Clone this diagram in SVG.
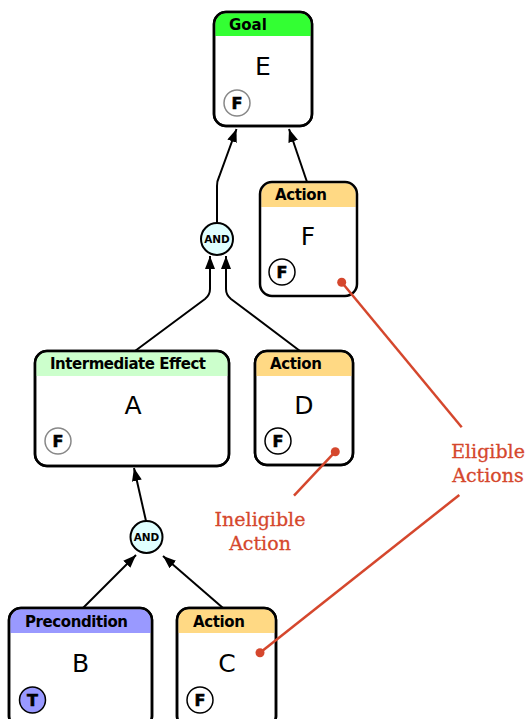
<svg xmlns="http://www.w3.org/2000/svg" width="526" height="719" viewBox="0 0 526 719">
<style>
.box{fill:#fff;stroke:#000;stroke-width:2.5}
.hdr{font-family:"DejaVu Sans",sans-serif;font-weight:bold;font-size:15px;fill:#000}
.big{font-family:"DejaVu Sans",sans-serif;font-size:25px;fill:#000;text-anchor:middle}
.st{font-family:"DejaVu Sans",sans-serif;font-weight:bold;font-size:16px;fill:#000;stroke:#000;stroke-width:0.6;text-anchor:middle}
.and{fill:#e0ffff;stroke:#000;stroke-width:2}
.andt{font-family:"DejaVu Sans",sans-serif;font-weight:bold;font-size:10.5px;fill:#000;text-anchor:middle}
.edge{fill:none;stroke:#000;stroke-width:2}
.red{fill:none;stroke:#d5472d;stroke-width:2.5}
.dot{fill:#d5472d}
.note{font-family:"DejaVu Serif",serif;font-size:19px;fill:#d5472d;stroke:#d5472d;stroke-width:0.3;text-anchor:middle}
</style>
<defs>
<marker id="arr" markerUnits="userSpaceOnUse" markerWidth="14" markerHeight="11" refX="13" refY="5" orient="auto">
<path d="M0,0 L13,5 L0,10 z" fill="#000"/>
</marker>
</defs>
<g id="connectors">
<path class="edge" d="M217,223 L217,186 Q217,181 219,177 L236.5,129" marker-end="url(#arr)"/>
<path class="edge" d="M307,182 L289,129" marker-end="url(#arr)"/>
<path class="edge" d="M135,351 L205,299 Q210,295 210,289 L210,256" marker-end="url(#arr)"/>
<path class="edge" d="M300,351 L231,299 Q226,295 226,289 L226,256" marker-end="url(#arr)"/>
<path class="edge" d="M146,521 L134,468" marker-end="url(#arr)"/>
<path class="edge" d="M83,608 L136,555" marker-end="url(#arr)"/>
<path class="edge" d="M223,608 L163,556" marker-end="url(#arr)"/>
</g>
<g id="node-E">
<rect class="box" x="214" y="12" width="98" height="114" rx="12"/>
<path d="M215.3,36 L215.3,24 A10.7,10.7 0 0 1 226,13.3 L300,13.3 A10.7,10.7 0 0 1 310.7,24 L310.7,36 Z" fill="#33ff33"/>
<rect x="214" y="12" width="98" height="114" rx="12" fill="none" stroke="#000" stroke-width="2.5"/>
<text class="hdr" x="229" y="30">Goal</text>
<text class="big" x="263" y="75">E</text>
<circle cx="237" cy="103" r="13" fill="#fff" stroke="#888" stroke-width="1.5"/>
<text class="st" x="237" y="109">F</text>
</g>
<g id="node-F">
<path d="M261.3,207 L261.3,194 A10.7,10.7 0 0 1 272,183.3 L345,183.3 A10.7,10.7 0 0 1 355.7,194 L355.7,207 Z" fill="#ffd984"/>
<rect x="260" y="182" width="97" height="114" rx="12" fill="none" stroke="#000" stroke-width="2.5"/>
<text class="hdr" x="275" y="200" textLength="52">Action</text>
<text class="big" x="308" y="245">F</text>
<circle cx="282" cy="272" r="13" fill="#fff" stroke="#000" stroke-width="1.5"/>
<text class="st" x="282" y="278">F</text>
</g>
<g id="node-AND1">
<circle class="and" cx="217" cy="239" r="16"/>
<text class="andt" x="217" y="243">AND</text>
</g>
<g id="node-A">
<rect class="box" x="35" y="351" width="194" height="115" rx="12"/>
<path d="M36.3,376 L36.3,363 A10.7,10.7 0 0 1 47,352.3 L217,352.3 A10.7,10.7 0 0 1 227.7,363 L227.7,376 Z" fill="#ccffcc"/>
<rect x="35" y="351" width="194" height="115" rx="12" fill="none" stroke="#000" stroke-width="2.5"/>
<text class="hdr" x="50" y="369" textLength="156">Intermediate Effect</text>
<text class="big" x="133" y="414">A</text>
<circle cx="58" cy="441" r="13" fill="#fff" stroke="#888" stroke-width="1.5"/>
<text class="st" x="58" y="447">F</text>
</g>
<g id="node-D">
<rect class="box" x="255" y="351" width="98" height="114" rx="12"/>
<path d="M256.3,376 L256.3,363 A10.7,10.7 0 0 1 267,352.3 L341,352.3 A10.7,10.7 0 0 1 351.7,363 L351.7,376 Z" fill="#ffd984"/>
<rect x="255" y="351" width="98" height="114" rx="12" fill="none" stroke="#000" stroke-width="2.5"/>
<text class="hdr" x="270" y="369" textLength="52">Action</text>
<text class="big" x="304" y="414">D</text>
<circle cx="278" cy="441" r="13" fill="#fff" stroke="#000" stroke-width="1.5"/>
<text class="st" x="278" y="447">F</text>
</g>
<g id="node-AND2">
<circle class="and" cx="146.5" cy="537" r="16"/>
<text class="andt" x="146.5" y="541">AND</text>
</g>
<g id="node-B">
<rect class="box" x="9" y="608" width="143" height="120" rx="12"/>
<path d="M10.3,633 L10.3,620 A10.7,10.7 0 0 1 21,609.3 L140,609.3 A10.7,10.7 0 0 1 150.7,620 L150.7,633 Z" fill="#9999ff"/>
<rect x="9" y="608" width="143" height="120" rx="12" fill="none" stroke="#000" stroke-width="2.5"/>
<text class="hdr" x="25" y="627" textLength="103">Precondition</text>
<text class="big" x="80.5" y="672">B</text>
<circle cx="32.5" cy="700" r="13" fill="#9999ff" stroke="#000" stroke-width="1.5"/>
<text class="st" x="32.5" y="706">T</text>
</g>
<g id="node-C">
<rect class="box" x="177" y="608" width="99" height="120" rx="12"/>
<path d="M178.3,633 L178.3,620 A10.7,10.7 0 0 1 189,609.3 L264,609.3 A10.7,10.7 0 0 1 274.7,620 L274.7,633 Z" fill="#ffd984"/>
<rect x="177" y="608" width="99" height="120" rx="12" fill="none" stroke="#000" stroke-width="2.5"/>
<text class="hdr" x="193" y="627" textLength="52">Action</text>
<text class="big" x="227" y="672">C</text>
<circle cx="200" cy="700" r="13" fill="#fff" stroke="#000" stroke-width="1.5"/>
<text class="st" x="200" y="706">F</text>
</g>
<g id="annotations">
<path class="red" d="M341.7,282.3 L461.7,427.3"/>
<path class="red" d="M459.3,495 L260,652.7"/>
<path class="red" d="M335.3,451.7 L294,495.7"/>
<circle class="dot" cx="341.7" cy="282.3" r="4.5"/>
<circle class="dot" cx="260" cy="652.7" r="4.5"/>
<circle class="dot" cx="335.3" cy="451.7" r="4.5"/>
<text class="note" x="488" y="458">Eligible</text>
<text class="note" x="488" y="481.5">Actions</text>
<text class="note" x="260" y="526">Ineligible</text>
<text class="note" x="260" y="549.5">Action</text>
</g>
</svg>
